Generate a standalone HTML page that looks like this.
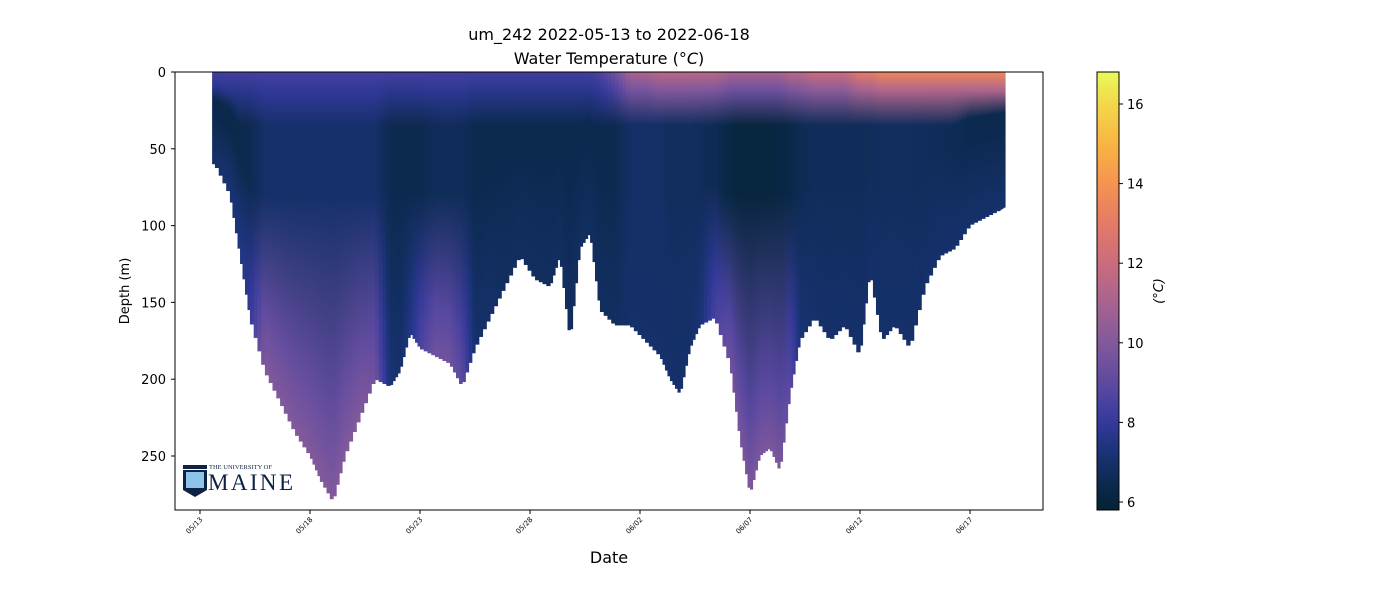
<!DOCTYPE html>
<html><head><meta charset="utf-8"><style>
body{margin:0;background:#fff;font-family:"DejaVu Sans",sans-serif}
</style></head><body>
<svg id="c" width="1400" height="600" xmlns="http://www.w3.org/2000/svg" font-family="DejaVu Sans, Liberation Sans, sans-serif">
<defs id="defs"></defs>
<text x="609" y="40" text-anchor="middle" font-size="16">um_242 2022-05-13 to 2022-06-18</text>
<text x="609" y="64" text-anchor="middle" font-size="16">Water Temperature (<tspan font-style="italic">°C</tspan>)</text>
<g id="plot"></g>
<g id="logo">
 <rect x="183" y="465" width="24" height="4" fill="#0d2244"/>
 <path d="M183 470 h24 v20 l-12 7 l-12 -7z" fill="#0d2244"/>
 <path d="M186 472 h18 v16 h-18z" fill="#8ec3ea"/>
 <text x="209" y="469" font-family="Liberation Serif,serif" font-size="6.5" fill="#0d2244">THE UNIVERSITY OF</text>
 <text x="208" y="490" font-family="Liberation Serif,serif" font-size="23" fill="#0d2244" textLength="85">MAINE</text>
</g>
<rect x="175" y="72" width="868" height="438" fill="none" stroke="#000" stroke-width="1"/>
<g id="axes"></g>
<text x="609" y="563" text-anchor="middle" font-size="16">Date</text>
<text transform="translate(129,291) rotate(-90)" text-anchor="middle" font-size="13">Depth (m)</text>
<g id="cbar"></g>
<text transform="translate(1163,291) rotate(-90)" text-anchor="middle" font-size="13" font-style="italic">(°C)</text>
</svg>
<script>
const days=[0.55,0.68,1.36,1.82,2.27,2.95,3.64,4.32,5,5.45,6.05,6.59,7.27,7.95,8.64,9.09,9.55,10,10.68,11.36,11.91,12.5,13.18,13.86,14.55,15.23,15.91,16.36,16.82,17.27,17.73,18.18,18.86,19.55,20.23,20.91,21.36,21.82,22.27,22.73,23.41,24.09,24.55,25,25.45,25.91,26.36,26.82,27.27,27.95,28.64,29.32,30,30.45,31,31.59,32.27,32.95,33.64,34.32,35,35.68,36.36,36.59];
const maxDepth=[60,60,80,120,160,195,215,235,250,265,280,250,225,200,205,195,170,180,185,190,205,180,160,140,120,135,140,120,175,115,105,155,165,165,175,185,200,210,180,165,160,190,240,275,250,245,260,210,175,160,175,165,185,130,175,165,180,140,120,115,100,95,90,88];
const surfTemp=[8.4,8.4,8.4,8.4,8.4,8.4,8.4,8.4,8.4,8.4,8.4,8.4,8.4,8.4,8.4,8.4,8.4,8.4,8.4,8.4,8.4,8.3,8.3,8.3,8.3,8.3,8.3,8.3,8.3,8.3,8.3,8.6,9.5,11,11,11.5,11.5,11.5,11.5,11.5,11.5,11,11,11,11,11,11,11.5,11.5,12,12,12,13,13,13.5,13.5,13.5,13.5,13.5,13.5,13.5,13.5,13.5,13.5];
const midTemp=[6.4,6.4,6.4,6.4,6.5,7.0,7.0,7.0,7.0,7.0,7.0,7.0,7.0,7.0,6.5,6.5,6.5,6.5,6.7,6.7,6.7,6.5,6.5,6.5,6.5,6.5,6.5,6.5,6.5,6.5,6.5,6.5,6.5,6.9,6.9,6.9,6.8,6.8,6.8,6.7,6.6,6.2,6.1,6.1,6.1,6.1,6.2,6.3,6.6,6.7,6.7,6.7,6.7,6.7,6.8,6.8,6.8,6.7,6.7,6.6,6.5,6.5,6.5,6.5];
const deepTemp=[7.0,7.0,7.2,7.5,8.0,10,10,10,10,10,10,10,10,9.5,7.2,7.0,7.5,8.5,9.5,9.5,9.0,7,7,6.8,6.8,6.8,6.8,6.8,6.8,6.8,6.8,6.8,6.8,7,7,7,7,7,7,7.2,8.5,9.5,9.8,9.8,9.8,9.8,9.8,9.0,7.2,7,7,7,7,7,7,7,7,7,7,7,7,7,7,7];
const xTickLabels=['05/13','05/18','05/23','05/28','06/02','06/07','06/12','06/17'];
const yTicks=[0,50,100,150,200,250];
const cbTicks=[6,8,10,12,14,16];
const cmap=[[5.8,'#042333'],[6.5,'#0c2a50'],[7.3,'#1b3479'],[8,'#34399c'],[9,'#5e4aa0'],[10,'#82599b'],[11,'#a8638f'],[12,'#cb6c7d'],[13,'#e57a66'],[14,'#f59350'],[15,'#f9b543'],[16,'#f2d84a'],[16.8,'#e8fa5b']];
const NS='http://www.w3.org/2000/svg';
const xS=d=>200+d*22, yS=m=>72+m*1.536, cS=t=>502-(t-6)*39.8;
function hx(h){return [1,3,5].map(i=>parseInt(h.substr(i,2),16));}
function col(t){t=Math.max(5.8,Math.min(16.8,t));for(let i=0;i<cmap.length-1;i++){const[a,ca]=cmap[i],[b,cb]=cmap[i+1];if(t<=b){const f=(t-a)/(b-a),A=hx(ca),B=hx(cb);return 'rgb('+A.map((v,k)=>Math.round(v+(B[k]-v)*f)).join(',')+')';}}return cmap[cmap.length-1][1];}
function el(tag,attrs,parent){const e=document.createElementNS(NS,tag);for(const k in attrs)e.setAttribute(k,attrs[k]);parent.appendChild(e);return e;}
const defs=document.getElementById('defs'),plot=document.getElementById('plot'),axes=document.getElementById('axes'),cbar=document.getElementById('cbar');
const SUB=4;let gid=0;
function column(x0,x1,D,s,m,d){
 const g=el('linearGradient',{id:'g'+gid,x1:0,y1:0,x2:0,y2:1},defs);
 const stops=[[0,s],[Math.min(0.15,12/D),(s*2+m)/3],[Math.min(0.3,35/D),m],[Math.min(0.45,80/D),m],[0.82,(m+d*3)/4],[1,d]];
 stops.forEach(st=>el('stop',{offset:st[0],'stop-color':col(st[1])},g));
 const r=el('rect',{x:x0,y:72,width:Math.max(0.8,x1-x0+0.6),height:yS(D)-72,fill:'url(#g'+gid+')'},plot);
 
 
 gid++;
}
for(let i=0;i<days.length-1;i++){
 for(let k=0;k<SUB;k++){
  const f0=k/SUB,f1=(k+1)/SUB,fm=(f0+f1)/2,L=(a)=>a[i]+(a[i+1]-a[i])*fm;
  const x0=xS(days[i]+(days[i+1]-days[i])*f0),x1=xS(days[i]+(days[i+1]-days[i])*f1);
  column(x0,x1,L(maxDepth),L(surfTemp),L(midTemp),L(deepTemp));
 }
}
xTickLabels.forEach((l,i)=>{const x=xS(i*5);
 el('line',{x1:x,x2:x,y1:510,y2:514,stroke:'#000'},axes);
 const t=el('text',{x:0,y:0,'font-size':7,'text-anchor':'end',transform:'translate('+(x+3)+',520) rotate(-45)'},axes);t.textContent=l;
 
 });
yTicks.forEach(v=>{const y=yS(v);
 el('line',{x1:171,x2:175,y1:y,y2:y,stroke:'#000'},axes);
 const t=el('text',{x:166,y:y+5,'font-size':13,'text-anchor':'end'},axes);t.textContent=v;
 
 });
const cg=el('linearGradient',{id:'cbg',x1:0,y1:1,x2:0,y2:0},defs);
cmap.forEach(c=>el('stop',{offset:(c[0]-5.8)/11,'stop-color':c[1]},cg));
el('rect',{x:1097,y:72,width:22,height:438,fill:'url(#cbg)',stroke:'#000','stroke-width':1},cbar);
cbTicks.forEach(v=>{const y=cS(v);
 el('line',{x1:1119,x2:1123,y1:y,y2:y,stroke:'#000'},cbar);
 const t=el('text',{x:1127,y:y+5,'font-size':13},cbar);t.textContent=v;
 
 });
</script>
</body></html>
